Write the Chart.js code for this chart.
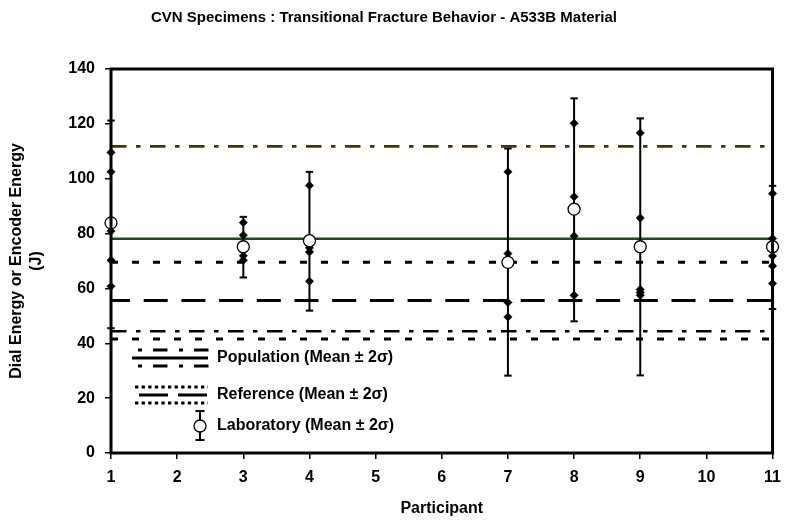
<!DOCTYPE html>
<html><head><meta charset="utf-8">
<script src="https://cdn.jsdelivr.net/npm/chart.js@4"></script>
<style>html,body{margin:0;padding:0;background:#fff}#wrap{width:790px;height:524px;position:relative}</style>
</head><body><div id="wrap"><canvas id="c"></canvas></div>
<script>
// ---- data ----
const titleText = 'CVN Specimens : Transitional Fracture Behavior - A533B Material';
const yAxisTitle = ['Dial Energy or Encoder Energy', '(J)'];
const xAxisTitle = 'Participant';
const participants = [1, 3, 4, 7, 8, 9, 11];
const labMean = [83.9, 75.2, 77.4, 69.5, 88.9, 75.2, 75.2];
const labLow  = [45.5, 64.0, 51.9, 28.2, 48.0, 28.3, 52.5];
const labHigh = [121.2, 86.1, 102.5, 111.0, 129.3, 122.0, 97.4];
const specimenValues = [
  [109.6, 102.5, 80.9, 70.3, 60.8],
  [84.0, 79.4, 71.9, 70.3],
  [97.5, 74.8, 73.3, 62.6],
  [102.5, 72.7, 54.9, 49.6],
  [120.2, 93.4, 79.1, 57.5],
  [116.7, 85.7, 59.6, 58.5, 57.5],
  [94.6, 78.2, 71.8, 68.2, 61.8]
];
const populationUpper = 111.8, populationMean = 78.1, populationLower = 44.4;
const referenceUpper = 69.5, referenceMean = 55.6, referenceLower = 41.6;
const yTicks = [0, 20, 40, 60, 80, 100, 120, 140];
const xTicks = [1, 2, 3, 4, 5, 6, 7, 8, 9, 10, 11];
const legendLabels = ['Population (Mean \u00b1 2\u03c3)', 'Reference (Mean \u00b1 2\u03c3)', 'Laboratory (Mean \u00b1 2\u03c3)'];

// ---- styles ----
const FONT = "'Liberation Sans', Arial, sans-serif";
const GREEN = '#1c4c1c', OLIVE = '#3f3b00';
const DASHDOT = [15.5, 9.5, 4.5, 9.5], DOTTED = [7, 14], LONGDASH = [24, 13.7];

function hline(v, color, dash, width, offset) {
  return { type: 'line', data: [{x: xTicks[0], y: v}, {x: xTicks[xTicks.length-1], y: v}],
    borderColor: color, borderWidth: width, borderDash: dash, borderDashOffset: offset || 0,
    pointRadius: 0, fill: false, order: 5, clip: false, tension: 0 };
}
const datasets = [
  hline(populationUpper, OLIVE, DASHDOT, 2.6),
  hline(populationMean, GREEN, [], 2.6),
  hline(populationLower, '#000', DASHDOT, 2.6),
  hline(referenceUpper, '#000', DOTTED, 3),
  hline(referenceMean, '#000', LONGDASH, 3, 5),
  hline(referenceLower, '#000', DOTTED, 3)
];
participants.forEach((p, i) => {
  datasets.push({ type: 'line', data: [{x: p, y: labLow[i]}, {x: p, y: labHigh[i]}],
    borderColor: '#000', borderWidth: 2, pointStyle: 'line', pointRadius: 3.7,
    pointBorderColor: '#000', pointBorderWidth: 2, fill: false, order: 3, clip: false });
});
const specPts = [];
participants.forEach((p, i) => specimenValues[i].forEach(v => specPts.push({x: p, y: v})));
datasets.push({ type: 'scatter', data: specPts, pointStyle: 'rectRot', pointRadius: 4.2,
  backgroundColor: '#000', borderColor: '#000', borderWidth: 0.5, order: 2, clip: false });
datasets.push({ type: 'scatter', data: participants.map((p, i) => ({x: p, y: labMean[i]})),
  pointStyle: 'circle', pointRadius: 6, backgroundColor: '#fff', borderColor: '#000',
  borderWidth: 1.3, order: 1, clip: false });

const framePlugin = {
  id: 'frame',
  afterDatasetsDraw(chart) {
    const {ctx, chartArea: a} = chart;
    ctx.save();
    ctx.strokeStyle = '#000'; ctx.lineWidth = 3; ctx.setLineDash([]);
    ctx.strokeRect(a.left, a.top, a.right - a.left, a.bottom - a.top);
    // title
    ctx.fillStyle = '#000';
    ctx.font = 'bold 15px ' + FONT;
    ctx.textAlign = 'center'; ctx.textBaseline = 'middle';
    ctx.fillText(titleText, 384, 18);
    // legend
    function seg(xa, xb, y, dash, w) {
      ctx.beginPath(); ctx.strokeStyle = '#000'; ctx.lineWidth = w; ctx.setLineDash(dash);
      ctx.moveTo(xa, y); ctx.lineTo(xb, y); ctx.stroke();
    }
    const tx = 217;
    seg(138, 208.5, 350, [4, 11, 14.5, 11.5], 3);
    seg(132, 208, 358, [], 3);
    seg(138, 208.5, 366, [4, 11, 14.5, 11.5], 3);
    seg(135, 208, 387, [3.3, 3.3], 3);
    seg(139, 208, 395, [29, 10], 3);
    seg(135, 208, 403, [3.3, 3.3], 3);
    ctx.setLineDash([]);
    const lx = 200;
    ctx.strokeStyle = '#000'; ctx.lineWidth = 2;
    ctx.beginPath(); ctx.moveTo(lx, 411); ctx.lineTo(lx, 440);
    ctx.moveTo(lx - 4.5, 411); ctx.lineTo(lx + 4.5, 411);
    ctx.moveTo(lx - 4.5, 440); ctx.lineTo(lx + 4.5, 440); ctx.stroke();
    ctx.beginPath(); ctx.arc(lx, 426, 6, 0, Math.PI * 2);
    ctx.fillStyle = '#fff'; ctx.fill(); ctx.lineWidth = 1.3; ctx.stroke();
    ctx.fillStyle = '#000';
    ctx.font = 'bold 16px ' + FONT; ctx.textAlign = 'left';
    ctx.fillText(legendLabels[0], tx, 358);
    ctx.fillText(legendLabels[1], tx, 395);
    ctx.fillText(legendLabels[2], tx, 426);
    ctx.restore();
  }
};

new Chart(document.getElementById('c'), {
  data: { datasets },
  options: {
    responsive: true, maintainAspectRatio: false, animation: false,
    layout: { padding: { top: 69, right: 13, bottom: 0, left: 0 } },
    plugins: { legend: { display: false }, tooltip: { enabled: false }, title: { display: false } },
    scales: {
      x: { type: 'linear', min: 1, max: 11,
        afterBuildTicks: s => { s.ticks = xTicks.map(v => ({value: v})); },
        afterFit: s => { s.height = 71; },
        grid: { drawOnChartArea: false, drawTicks: true, tickLength: 6, color: '#000', lineWidth: 1.5 },
        border: { display: false },
        ticks: { color: '#000', font: { family: FONT, size: 16, weight: 'bold' }, padding: 9, maxRotation: 0 },
        title: { display: true, text: xAxisTitle, color: '#000', font: { family: FONT, size: 16, weight: 'bold' }, padding: { top: 0, bottom: 6 } }
      },
      y: { type: 'linear', min: 0, max: 140,
        afterBuildTicks: s => { s.ticks = yTicks.map(v => ({value: v})); },
        afterFit: s => { s.width = 111; },
        grid: { drawOnChartArea: false, drawTicks: true, tickLength: 6, color: '#000', lineWidth: 1.5 },
        border: { display: false },
        ticks: { color: '#000', font: { family: FONT, size: 16, weight: 'bold' }, padding: 10 },
        title: { display: true, text: yAxisTitle, color: '#000', font: { family: FONT, size: 16, weight: 'bold', lineHeight: '20px' }, padding: { top: 7, bottom: 0 } }
      }
    }
  },
  plugins: [framePlugin]
});
</script></body></html>
